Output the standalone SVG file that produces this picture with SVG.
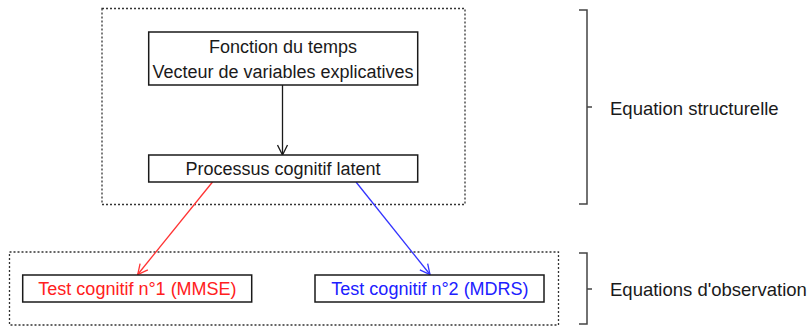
<svg xmlns="http://www.w3.org/2000/svg" width="809" height="326" viewBox="0 0 809 326">
<defs>
<style>
.t{font-family:"Liberation Sans",Arial,sans-serif;font-size:18px;text-anchor:middle}
.lbl{font-family:"Liberation Sans",Arial,sans-serif;font-size:18.5px;fill:#1a1a1a}
.box{fill:#fff;stroke:#1a1a1a;stroke-width:1.5}
.dot{fill:none;stroke:#333;stroke-width:1.3;stroke-dasharray:2 2}
.br{fill:none;stroke:#444;stroke-width:1.5}
</style>
<marker id="ak" viewBox="0 0 12 12" refX="11" refY="6" markerWidth="12" markerHeight="12" markerUnits="userSpaceOnUse" orient="auto"><path d="M1,1 L11,6 L1,11" fill="none" stroke="#1a1a1a" stroke-width="1.3"/></marker>
<marker id="ar" viewBox="0 0 12 12" refX="11" refY="6" markerWidth="12" markerHeight="12" markerUnits="userSpaceOnUse" orient="auto"><path d="M1,1 L11,6 L1,11" fill="none" stroke="#ff3333" stroke-width="1.3"/></marker>
<marker id="ab" viewBox="0 0 12 12" refX="11" refY="6" markerWidth="12" markerHeight="12" markerUnits="userSpaceOnUse" orient="auto"><path d="M1,1 L11,6 L1,11" fill="none" stroke="#3333ff" stroke-width="1.3"/></marker>
</defs>
<rect width="809" height="326" fill="#fff"/>
<g id="groups">
<rect class="dot" x="102" y="8.5" width="363" height="196"/>
<rect class="dot" x="9.5" y="252" width="549" height="73"/>
</g>
<g id="brackets">
<path class="br" d="M579,10 H587 V204 H579 M587,107 H592"/>
<text class="lbl" x="610" y="115">Equation structurelle</text>
<path class="br" d="M579,253 H587 V324 H579 M587,289 H592"/>
<text class="lbl" x="610" y="296">Equations d'observation</text>
</g>
<g id="connectors">
<line x1="282.5" y1="85" x2="282.5" y2="155" stroke="#1a1a1a" stroke-width="1.3" marker-end="url(#ak)"/>
<line x1="212.5" y1="182" x2="137.7" y2="274.5" stroke="#ff3333" stroke-width="1.3" marker-end="url(#ar)"/>
<line x1="356" y1="182" x2="430" y2="274.5" stroke="#3333ff" stroke-width="1.3" marker-end="url(#ab)"/>
</g>
<g id="n-fonction">
<rect class="box" x="148.7" y="32" width="269" height="53"/>
<text class="t" x="283" y="52.5" fill="#1a1a1a">Fonction du temps</text>
<text class="t" x="283" y="77.5" fill="#1a1a1a">Vecteur de variables explicatives</text>
</g>
<g id="n-processus">
<rect class="box" x="148.7" y="155" width="269" height="27"/>
<text class="t" x="283" y="174.5" fill="#1a1a1a">Processus cognitif latent</text>
</g>
<g id="n-test1">
<rect class="box" x="22.7" y="275" width="229" height="27"/>
<text class="t" x="137.5" y="295" fill="#ff2020">Test cognitif n°1 (MMSE)</text>
</g>
<g id="n-test2">
<rect class="box" x="315" y="275" width="229" height="27"/>
<text class="t" x="430" y="295" fill="#2020ff">Test cognitif n°2 (MDRS)</text>
</g>
</svg>
